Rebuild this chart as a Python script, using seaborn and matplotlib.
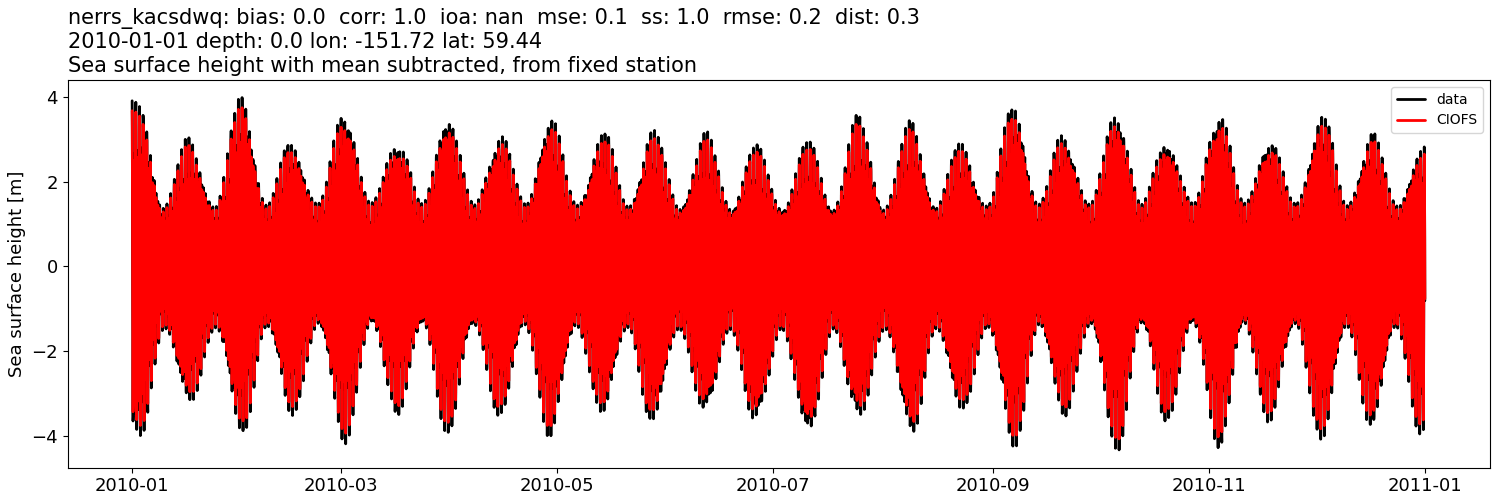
import numpy as np
import pandas as pd
import seaborn as sns
import matplotlib.pyplot as plt

spring_dates = ["2010-01-03", "2010-01-17", "2010-02-01", "2010-02-15", "2010-03-02",
                "2010-03-17", "2010-03-31", "2010-04-15", "2010-04-29", "2010-05-14",
                "2010-05-28", "2010-06-12", "2010-06-26", "2010-07-11", "2010-07-25",
                "2010-08-09", "2010-08-23", "2010-09-07", "2010-09-21", "2010-10-06",
                "2010-10-20", "2010-11-04", "2010-11-18", "2010-12-03", "2010-12-17",
                "2010-12-31"]
spring_high = [3.9, 3.1, 4.2, 3.1, 3.9, 3.2, 3.8, 3.3, 3.7, 3.3, 3.3, 3.2, 2.9, 3.0, 3.6,
               3.5, 3.0, 4.0, 3.3, 3.9, 3.2, 3.9, 3.2, 3.8, 3.3, 2.9]
spring_low = [-4.3, -3.4, -4.1, -3.6, -4.2, -3.5, -4.0, -3.6, -4.1, -3.6, -3.9, -3.7, -4.0,
              -4.3, -3.9, -4.2, -3.6, -4.4, -3.6, -4.4, -3.7, -4.3, -3.7, -4.2, -3.9, -4.1]
neap_amp = 1.5          # neap-tide amplitude [m]
model_scale = 0.94      # CIOFS amplitude relative to data

title = ("nerrs_kacsdwq: bias: 0.0  corr: 1.0  ioa: nan  mse: 0.1  ss: 1.0  rmse: 0.2  dist: 0.3\n"
         "2010-01-01 depth: 0.0 lon: -151.72 lat: 59.44\n"
         "Sea surface height with mean subtracted, from fixed station")

# hourly series: smooth envelope through spring peaks and neaps midway, semidiurnal carrier
times = pd.date_range("2010-01-01", "2011-01-01", freq="h")
t_h = np.asarray((times - times[0]) / pd.Timedelta("1h"))
sp = np.asarray((pd.to_datetime(spring_dates) - times[0]) / pd.Timedelta("1h"))
mid = (sp[:-1] + sp[1:]) / 2
knots = np.sort(np.concatenate([sp, mid]))
hi_k = np.empty(len(knots)); lo_k = np.empty(len(knots))
hi_k[0::2] = spring_high; hi_k[1::2] = neap_amp
lo_k[0::2] = np.abs(spring_low); lo_k[1::2] = neap_amp


def smooth_env(t, k, v):
    i = np.clip(np.searchsorted(k, t) - 1, 0, len(k) - 2)
    f = np.clip((t - k[i]) / (k[i + 1] - k[i]), 0, 1)
    w = (1 - np.cos(np.pi * f)) / 2
    return v[i] * (1 - w) + v[i + 1] * w


hi_env = smooth_env(t_h, knots, hi_k)
lo_env = smooth_env(t_h, knots, lo_k)
carrier = 0.85 * np.cos(2 * np.pi * t_h / 12.42) + 0.15 * np.cos(2 * np.pi * t_h / 23.93)
data = np.where(carrier > 0, hi_env, lo_env) * carrier
model = data * model_scale

df = pd.DataFrame({"time": times, "data": data, "CIOFS": model})

sns.set_style("ticks")
plt.rcParams.update({"text.color": "black", "axes.labelcolor": "black",
                     "xtick.color": "black", "ytick.color": "black",
                     "axes.edgecolor": "black"})
fig, ax = plt.subplots(figsize=(15, 5), dpi=100)
sns.lineplot(data=df, x="time", y="data", ax=ax, color="black", lw=2,
             label="data", estimator=None)
sns.lineplot(data=df, x="time", y="CIOFS", ax=ax, color="red", lw=2,
             label="CIOFS", estimator=None)
ax.set_title(title, loc="left", fontsize=15, color="black")
ax.set_xlabel("")
ax.set_ylabel("Sea surface height [m]", fontsize=13)
ax.tick_params(labelsize=13)
ax.set_yticks([-4, -2, 0, 2, 4])
ax.legend(loc="upper right", fontsize=10)
fig.subplots_adjust(left=0.045, right=0.993, top=0.84, bottom=0.065)
fig.savefig("out.png")
